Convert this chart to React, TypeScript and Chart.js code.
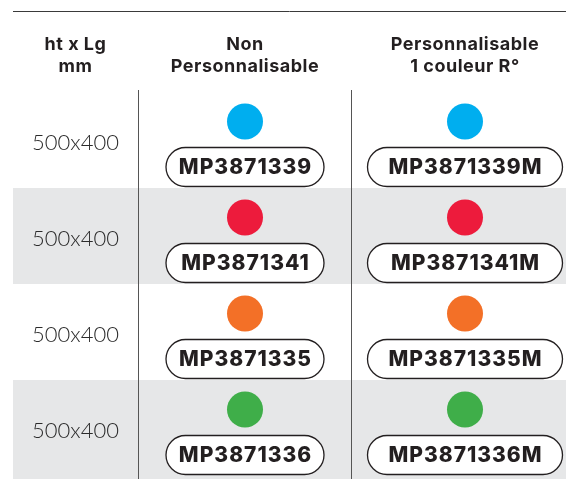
import React, { useEffect, useRef } from "react";
import { Chart, registerables } from "chart.js";
Chart.register(...registerables);

const headers: string[][] = [["ht x Lg", "mm"], ["Non", "Personnalisable"], ["Personnalisable", "1 couleur R°"]];
const sizes: string[] = ["500x400", "500x400", "500x400", "500x400"];
const codesStd: string[] = ["MP3871339", "MP3871341", "MP3871335", "MP3871336"];
const codesPerso: string[] = ["MP3871339M", "MP3871341M", "MP3871335M", "MP3871336M"];
const colors: string[] = ["#00aeef", "#ed1b3c", "#f37027", "#3fae49"];

const COL_EDGES = [13, 138, 351, 566];
const COL_CENTERS = [75.5, 245, 465];
const PILL_W = [0, 158, 195];
const ROW_H = 96;
const HEAD_H = 92;
const TEXT = "#231f20";
const FONT = "Inter, 'Open Sans', sans-serif";

export default function App() {
  const ref = useRef<HTMLCanvasElement | null>(null);
  useEffect(() => {
    document.body.style.margin = "0";
    const canvas = ref.current!;
    const tablePlugin = {
      id: "table",
      beforeDatasetsDraw(chart: any) {
        const { ctx, scales } = chart;
        const xs = scales.x, ys = scales.y;
        const X = (v: number) => xs.getPixelForValue(v);
        const Y = (v: number) => ys.getPixelForValue(v);
        ctx.save();
        // bands
        sizes.forEach((_, i) => {
          if (i % 2 === 1) {
            ctx.fillStyle = "#e6e7e8";
            const y0 = Y(i);
            const y1 = i === sizes.length - 1 ? chart.height : Y(i + 1);
            ctx.fillRect(X(COL_EDGES[0]), y0, X(COL_EDGES[3]) - X(COL_EDGES[0]), y1 - y0);
          }
        });
        // top line
        ctx.strokeStyle = "#3a3a3a";
        ctx.lineWidth = 1;
        ctx.beginPath();
        ctx.moveTo(X(COL_EDGES[0]), Math.round(Y(-81 / ROW_H)) + 0.5);
        ctx.lineTo(X(COL_EDGES[3]), Math.round(Y(-81 / ROW_H)) + 0.5);
        ctx.stroke();
        // vertical lines
        ctx.strokeStyle = "#555";
        [COL_EDGES[1], COL_EDGES[2]].forEach((e) => {
          ctx.beginPath();
          ctx.moveTo(Math.round(X(e)) + 0.5, Y(-2 / ROW_H));
          ctx.lineTo(Math.round(X(e)) + 0.5, chart.height);
          ctx.stroke();
        });
        // headers
        ctx.fillStyle = TEXT;
        ctx.textAlign = "center";
        ctx.textBaseline = "middle";
        ctx.font = `700 18px ${FONT}`;
        (ctx as any).letterSpacing = "0.5px";
        headers.forEach((lines, c) => {
          lines.forEach((t, k) => {
            ctx.fillText(t, X(COL_CENTERS[c]), Y((-47 + k * 22) / ROW_H));
          });
        });
        // row labels
        (ctx as any).letterSpacing = "0px";
        ctx.fillStyle = "#2b2b2b";
        ctx.font = `300 22px Lato, 'Open Sans', sans-serif`;
        sizes.forEach((s, i) => {
          ctx.fillText(s, X(COL_CENTERS[0]), Y(i + 51 / ROW_H));
        });
        ctx.restore();
      },
      afterDatasetsDraw(chart: any) {
        const { ctx, scales } = chart;
        const X = (v: number) => scales.x.getPixelForValue(v);
        const Y = (v: number) => scales.y.getPixelForValue(v);
        ctx.save();
        const drawPill = (cx: number, cy: number, w: number, h: number, text: string) => {
          const r = h / 2;
          ctx.beginPath();
          ctx.moveTo(cx - w / 2 + r, cy - r);
          ctx.lineTo(cx + w / 2 - r, cy - r);
          ctx.arc(cx + w / 2 - r, cy, r, -Math.PI / 2, Math.PI / 2);
          ctx.lineTo(cx - w / 2 + r, cy + r);
          ctx.arc(cx - w / 2 + r, cy, r, Math.PI / 2, (3 * Math.PI) / 2);
          ctx.closePath();
          ctx.fillStyle = "#ffffff";
          ctx.fill();
          ctx.strokeStyle = TEXT;
          ctx.lineWidth = 1.3;
          ctx.stroke();
          ctx.fillStyle = TEXT;
          ctx.font = `800 21px ${FONT}`;
          (ctx as any).letterSpacing = "1px";
          ctx.textAlign = "center";
          ctx.textBaseline = "middle";
          ctx.fillText(text, cx + 0.5, cy + 1);
        };
        sizes.forEach((_, i) => {
          const cy = Y(i + 75 / ROW_H);
          drawPill(X(COL_CENTERS[1]), cy, PILL_W[1], 39, codesStd[i]);
          drawPill(X(COL_CENTERS[2]), cy, PILL_W[2], 39, codesPerso[i]);
        });
        ctx.restore();
      },
    };
    const chart = new Chart(canvas, {
      type: "scatter",
      data: {
        datasets: [
          {
            data: colors.map((_, i) => ({ x: COL_CENTERS[1], y: i + 29.5 / ROW_H })),
            pointRadius: 18,
            pointBackgroundColor: colors,
            pointBorderWidth: 0,
          },
          {
            data: colors.map((_, i) => ({ x: COL_CENTERS[2], y: i + 29.5 / ROW_H })),
            pointRadius: 18,
            pointBackgroundColor: colors,
            pointBorderWidth: 0,
          },
        ],
      },
      options: {
        responsive: false,
        animation: false,
        layout: { padding: 0, autoPadding: false },
        plugins: { legend: { display: false }, tooltip: { enabled: false } },
        scales: {
          x: { type: "linear", min: 0, max: 566, display: false },
          y: { type: "linear", min: -HEAD_H / ROW_H, max: (479 - HEAD_H) / ROW_H, reverse: true, display: false },
        },
      },
      plugins: [tablePlugin],
    });
    return () => chart.destroy();
  }, []);
  return (
    <div style={{ width: 566, height: 479, background: "#fff" }}>
      <canvas ref={ref} width={566} height={479} style={{ display: "block" }} />
    </div>
  );
}
